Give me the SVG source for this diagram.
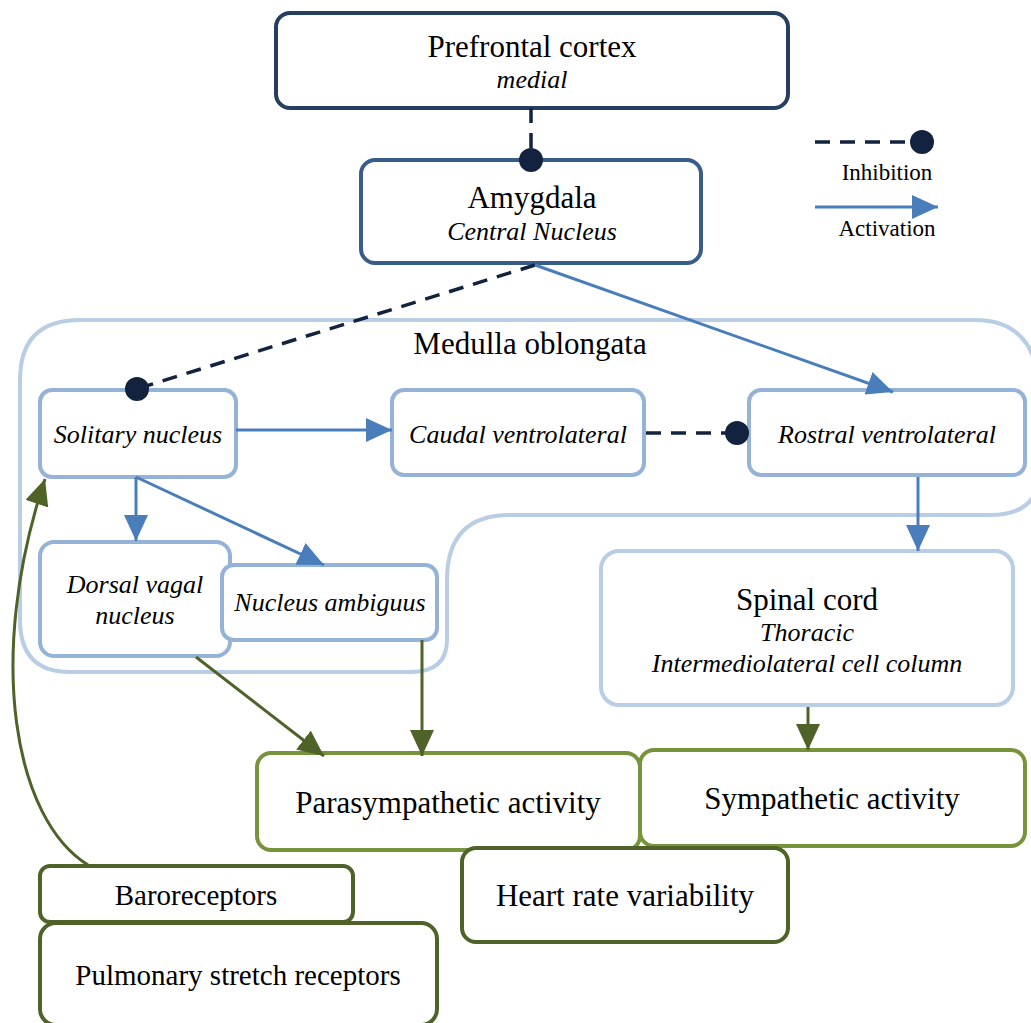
<svg xmlns="http://www.w3.org/2000/svg" width="1031" height="1023" viewBox="0 0 1031 1023">
<style>
.bg{fill:#ffffff}
.box{fill:#ffffff;stroke-width:4}
.pfc{stroke:#243F60}
.amy{stroke:#385D8A}
.med{stroke:#95B3D7}
.lite{stroke:#B9CDE5}
.grn{stroke:#77933C}
.dgrn{stroke:#4F6228}
text{font-family:"Liberation Serif","Times New Roman",serif;fill:#000;text-anchor:middle}
.big{font-size:31px}
.it{font-size:26px;font-style:italic}
.lg{font-size:23px}
.mid{font-size:29px}
.act{fill:none;stroke:#4A7EBB;stroke-width:3}
.inh{fill:none;stroke:#13233F;stroke-width:3.5;stroke-dasharray:15 10}
.gl{fill:none;stroke:#4F6228;stroke-width:3}
.dot{fill:#13233F}
</style>
<defs>
<marker id="ab" markerUnits="userSpaceOnUse" markerWidth="28" markerHeight="26" refX="26" refY="12" orient="auto">
<path d="M0,0 L26,12 L0,24 Z" fill="#4A7EBB"/>
</marker>
<marker id="ag" markerUnits="userSpaceOnUse" markerWidth="28" markerHeight="26" refX="26" refY="12" orient="auto">
<path d="M0,0 L26,12 L0,24 Z" fill="#4F6228"/>
</marker>
</defs>
<rect class="bg" x="0" y="0" width="1031" height="1023"/>

<g id="medulla">
<path d="M 80 320 L 975 320 Q 1040 320 1040 400 L 1040 470 Q 1040 515 990 515 L 510 515 Q 447 515 447 580 L 447 640 Q 447 672 410 672 L 70 672 Q 20 672 20 620 L 20 380 Q 20 320 80 320 Z" fill="none" stroke="#B9CDE5" stroke-width="4"/>
<text class="big" x="530" y="354">Medulla oblongata</text>
</g>

<g id="prefrontal">
<rect class="box pfc" x="276" y="13" width="512" height="95" rx="14"/>
<text class="big" x="532" y="57">Prefrontal cortex</text>
<text class="it" x="532" y="88">medial</text>
</g>

<g id="amygdala">
<rect class="box amy" x="361" y="160" width="340" height="103" rx="14"/>
<text class="big" x="532" y="208">Amygdala</text>
<text class="it" x="532" y="240">Central Nucleus</text>
</g>

<g id="solitary">
<rect class="box med" x="40" y="390" width="196" height="87" rx="12"/>
<text class="it" x="138" y="443">Solitary nucleus</text>
</g>

<g id="caudal">
<rect class="box med" x="392" y="390" width="252" height="85" rx="12"/>
<text class="it" x="518" y="443">Caudal ventrolateral</text>
</g>

<g id="rostral">
<rect class="box med" x="749" y="390" width="276" height="85" rx="12"/>
<text class="it" x="887" y="443">Rostral ventrolateral</text>
</g>

<g id="dorsal">
<rect class="box med" x="40" y="542" width="190" height="114" rx="14"/>
<text class="it" x="135" y="593">Dorsal vagal</text>
<text class="it" x="135" y="624">nucleus</text>
</g>

<g id="ambiguus">
<rect class="box med" x="222" y="565" width="215" height="75" rx="12"/>
<text class="it" x="330" y="611">Nucleus ambiguus</text>
</g>

<g id="spinal">
<rect class="box lite" x="601" y="551" width="412" height="154" rx="18"/>
<text class="big" x="807" y="610">Spinal cord</text>
<text class="it" x="807" y="641">Thoracic</text>
<text class="it" x="807" y="672">Intermediolateral cell column</text>
</g>

<g id="sympathetic">
<rect class="box grn" x="640" y="750" width="385" height="96" rx="14"/>
<text class="big" x="832" y="809">Sympathetic activity</text>
</g>

<g id="parasympathetic">
<rect class="box grn" x="257" y="753" width="383" height="97" rx="14"/>
<text class="big" x="448" y="813">Parasympathetic activity</text>
</g>

<g id="hrv">
<rect class="box dgrn" x="462" y="848" width="326" height="94" rx="14"/>
<text class="big" x="625" y="906">Heart rate variability</text>
</g>

<g id="baroreceptors">
<rect class="box dgrn" x="40" y="866" width="313" height="56" rx="10"/>
<text class="mid" x="196" y="905">Baroreceptors</text>
</g>

<g id="pulmonary">
<rect class="box dgrn" x="40" y="923" width="397" height="102" rx="16"/>
<text class="mid" x="238" y="985">Pulmonary stretch receptors</text>
</g>

<g id="legend">
<line class="inh" x1="815" y1="142" x2="912" y2="142"/>
<circle class="dot" cx="922" cy="142" r="12"/>
<text class="lg" x="887" y="180">Inhibition</text>
<line class="act" x1="815" y1="207" x2="938" y2="207" marker-end="url(#ab)"/>
<text class="lg" x="887" y="236">Activation</text>
</g>

<g id="connectors">
<line class="inh" x1="531" y1="108" x2="531" y2="150"/>
<circle class="dot" cx="531" cy="160" r="12"/>
<line class="inh" x1="535" y1="265" x2="146" y2="386"/>
<circle class="dot" cx="137" cy="389" r="12"/>
<line class="act" x1="535" y1="265" x2="893" y2="392" marker-end="url(#ab)"/>
<line class="act" x1="236" y1="430" x2="392" y2="430" marker-end="url(#ab)"/>
<line class="inh" x1="646" y1="433" x2="726" y2="433"/>
<circle class="dot" cx="737" cy="433" r="12"/>
<line class="act" x1="918" y1="477" x2="918" y2="551" marker-end="url(#ab)"/>
<line class="act" x1="136" y1="477" x2="136" y2="541" marker-end="url(#ab)"/>
<line class="act" x1="136" y1="477" x2="324" y2="565" marker-end="url(#ab)"/>
<line class="gl" x1="196" y1="657" x2="324" y2="756" marker-end="url(#ag)"/>
<line class="gl" x1="422" y1="640" x2="422" y2="756" marker-end="url(#ag)"/>
<line class="gl" x1="808" y1="707" x2="808" y2="750" marker-end="url(#ag)"/>
<path class="gl" d="M 88 865 C 15 820, -15 660, 45 479" marker-end="url(#ag)"/>
</g>
</svg>
